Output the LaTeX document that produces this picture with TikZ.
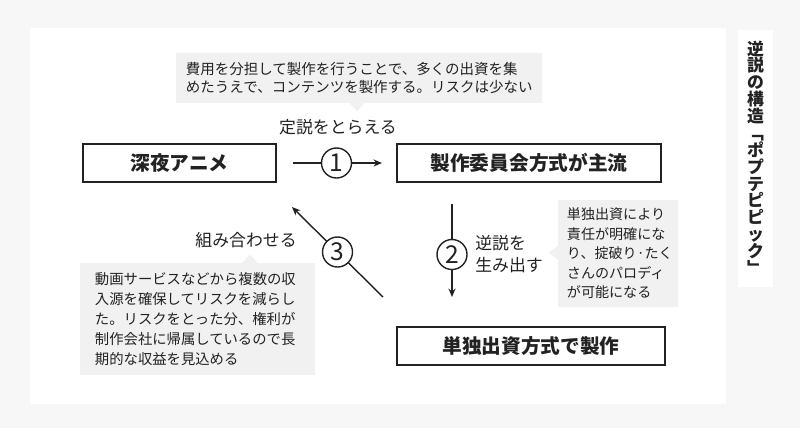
\documentclass[tikz,border=0pt]{standalone}
\usepackage{fontspec}
\setmainfont{Noto Sans CJK JP}
\usetikzlibrary{positioning,arrows.meta,calc}
\definecolor{pagebg}{HTML}{F7F7F7}
\definecolor{notebg}{HTML}{F1F1F1}
\definecolor{ink}{HTML}{222222}

\begin{document}
\begin{tikzpicture}[x=0.025cm,y=-0.025cm,
  box/.style={rectangle,draw=ink,line width=1.4pt,fill=white,text=ink,
              minimum height=0.95cm,inner sep=0pt,font=\fontsize{14}{16}\selectfont\bfseries},
  note/.style={rectangle,fill=notebg,text=ink,align=left,inner ysep=0pt},
  num/.style={circle,draw=ink,line width=1pt,fill=white,text=ink,minimum size=0.75cm,
              inner sep=0pt,font=\fontsize{17.5}{17.5}\selectfont},
  flow/.style={-{Stealth[length=6pt,width=5pt]},draw=ink,line width=1pt},
  lbl/.style={text=ink,font=\fontsize{12}{15.6}\selectfont,inner sep=0pt}
]
% background and panels
\fill[pagebg] (0,0) rectangle (800,428);
\fill[white] (30,28) rectangle (726,404);
\fill[white] (738,30) rectangle (773,287);

% main boxes
\node[box,minimum width=4.825cm] (anime) at (179.5,163) {深夜アニメ};
\node[box,minimum width=6.6cm] (committee) at (529,163) {製作委員会方式が主流};
\node[box,minimum width=6.7cm] (solo) at (531,346) {単独出資方式で製作};

% callouts
\node[note,text width=8.65cm,inner xsep=0.25cm,minimum height=1.25cm,
      font=\fontsize{10.3}{12.8}\selectfont] (costnote) at (359,78)
  {費用を分担して製作を行うことで、多くの出資を集\\めたうえで、コンテンツを製作する。リスクは少ない};
\fill[notebg] ($(costnote.south)+(-10,-1)$) -- ($(costnote.south)+(-2,8)$) -- ($(costnote.south)+(6,-1)$) -- cycle;

\node[note,text width=2.55cm,inner xsep=0.225cm,minimum height=2.675cm,
      font=\fontsize{10}{13.9}\selectfont] (risknote) at (618,253.5)
  {単独出資により\\責任が明確にな\\り、掟破り·たく\\さんのパロディ\\が可能になる};
\fill[notebg] ($(risknote.west)+(1,-8)$) -- ($(risknote.west)+(-9,-1)$) -- ($(risknote.west)+(1,7)$) -- cycle;

\node[note,text width=5.125cm,inner xsep=0.375cm,minimum height=2.8cm,
      font=\fontsize{10.2}{14.2}\selectfont] (mixnote) at (197.5,319)
  {動画サービスなどから複数の収\\入源を確保してリスクを減らし\\た。リスクをとった分、権利が\\制作会社に帰属しているので長\\期的な収益を見込める};
\fill[notebg] ($(mixnote.north)+(44,1)$) -- ($(mixnote.north)+(52.5,-8)$) -- ($(mixnote.north)+(61,1)$) -- cycle;

% arrows
\draw[flow,shorten <=0.4cm,shorten >=0.35cm] (anime) -- node[num] {1} (committee);
\draw[flow,shorten <=0.525cm,shorten >=0.725cm] ($(committee.south)+(-77,0)$) -- node[num] {2} ($(solo.north)+(-79,0)$);
\coordinate (tail3) at (383,297);
\coordinate (head3) at (292,207);
\draw[flow] (tail3) -- node[num] {3} (head3);

% labels
\node[lbl] (takelbl) at (338,127) {定説をとらえる};
\node[lbl,align=left,anchor=west] (makelbl) at (475,254) {逆説を\\生み出す};
\node[lbl,anchor=east] (mixlbl) at (297,240) {組み合わせる};

% vertical title
\node[text=ink,align=center,inner sep=0pt,font=\fontsize{12}{12}\selectfont\bfseries] (title) at (755.5,157.5)
  {逆\\説\\の\\構\\造\\﹁\\ポ\\プ\\テ\\ピ\\ピ\\ッ\\ク\\﹂};
\end{tikzpicture}
\end{document}
